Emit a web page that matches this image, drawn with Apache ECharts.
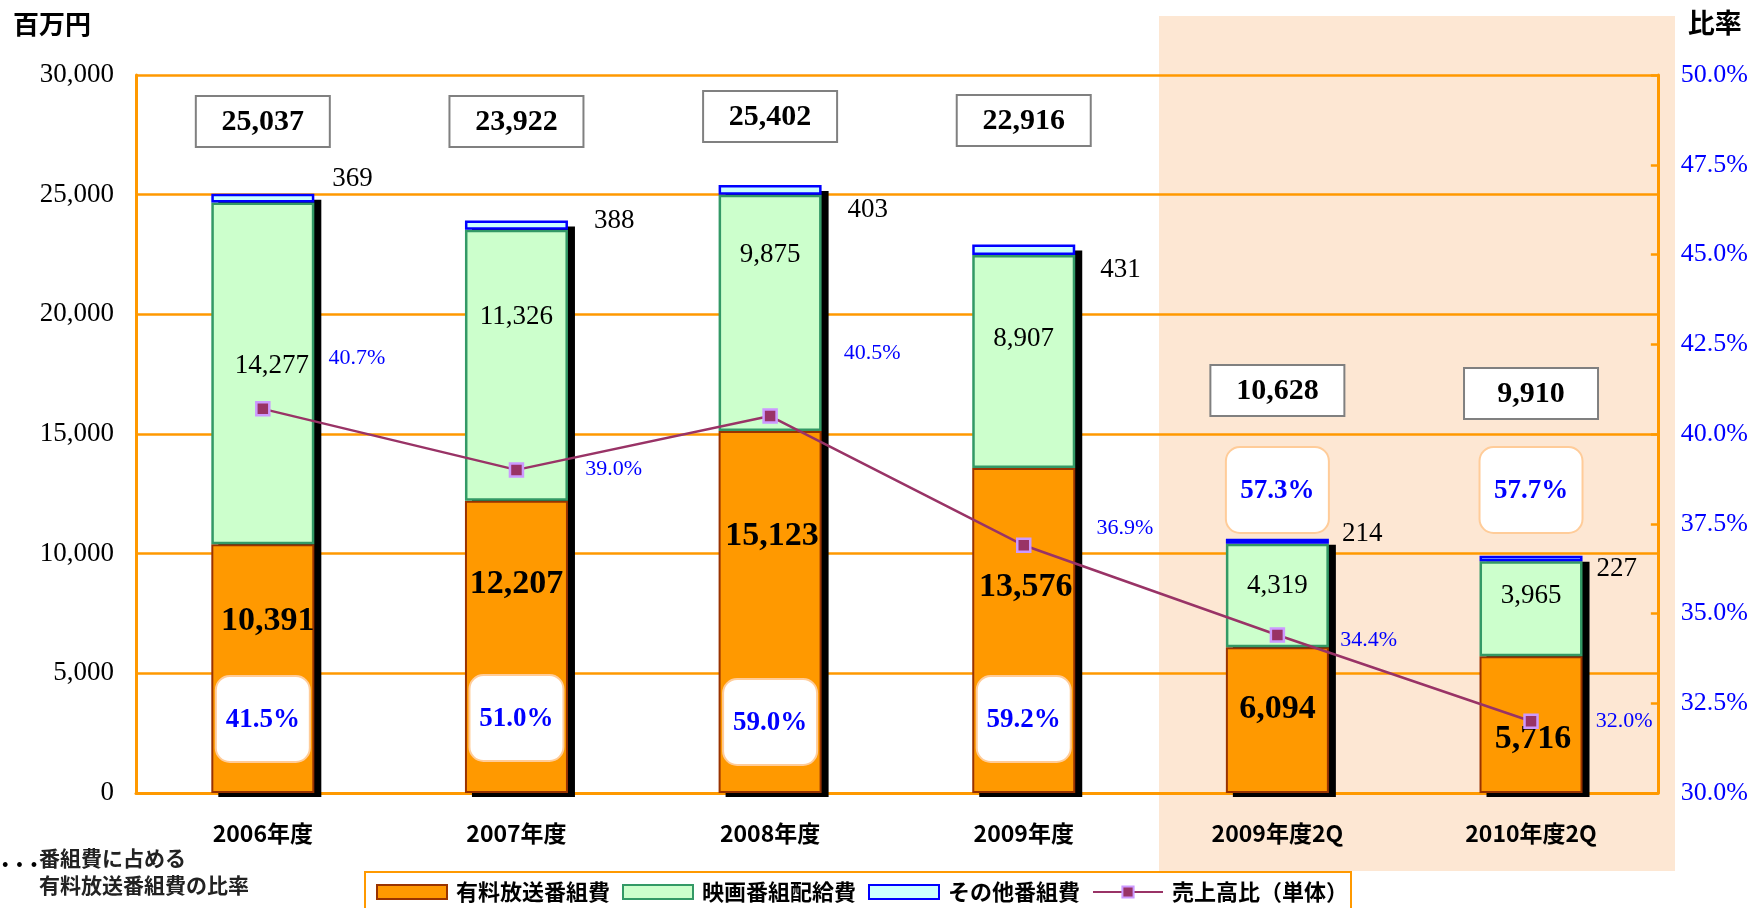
<!DOCTYPE html>
<html>
<head>
<meta charset="utf-8">
<script src="https://cdn.jsdelivr.net/npm/echarts@6/dist/echarts.min.js"></script>
<style>
  html, body { margin: 0; padding: 0; background: #fff; }
  #chart { width: 1751px; height: 908px; }
</style>
</head>
<body>
<div id="chart"></div>
<script>
// データ
const categories = ['2006年度', '2007年度', '2008年度', '2009年度', '2009年度2Q', '2010年度2Q']
const payTv = [10391, 12207, 15123, 13576, 6094, 5716]      // 有料放送番組費
const movie = [14277, 11326, 9875, 8907, 4319, 3965]        // 映画番組配給費
const other = [369, 388, 403, 431, 214, 227]                // その他番組費
const totals = [25037, 23922, 25402, 22916, 10628, 9910]     // 合計
const salesRatio = [40.7, 39.0, 40.5, 36.9, 34.4, 32.0]      // 売上高比(単体)
const payTvShare = [41.5, 51.0, 59.0, 59.2, 57.3, 57.7]      // 番組費に占める有料放送番組費の比率

// ラベル位置の微調整 (レイアウト用)
const payTvLabelShift = [[5, -47], [0, -63], [2, -76], [2, -43], [0, -11], [2, 15]]
const movieLabelShift = [[9, -8], [0, -48], [0, -58], [0, -23], [0, -10], [0, -13]]
const otherLabelShift = [[-3, -19], [5, -4], [5, 20], [4, 20], [-8, -7], [-7, 10]]
const ratioLabelShift = [[-1, -51], [2, -1], [7, -63], [6, -17], [-4, 5], [-2, 0]]
const totalBoxY = [121, 121, 116, 120, 390, 393]
const shareBoxY = [719, 718, 722, 719, 490, 490]

const serif = '"Liberation Serif", "Times New Roman", serif'
const gothic = '"Noto Sans CJK JP", "Noto Sans", sans-serif'
const orange = '#FF9900'
const barWidth = 103
const num = v => v.toLocaleString('en-US')

const shifted = (values, shifts) => values.map((v, i) => ({ value: v, label: { offset: shifts[i] } }))

const chart = echarts.init(document.getElementById('chart'))

const option = {
  animation: false,
  backgroundColor: '#fff',
  grid: { left: 136, right: 93, top: 75, bottom: 115 },
  graphic: [
    { type: 'rect', z: -10, shape: { x: 1159, y: 16, width: 516, height: 855 }, style: { fill: '#FDE7D3' } },
    { type: 'text', left: 1, top: 844, style: { text: '. . .', font: 'bold 26px ' + gothic, fill: '#000' } },
    { type: 'text', left: 39, top: 845, style: { text: '番組費に占める\n有料放送番組費の比率', font: 'bold 21px ' + gothic, lineHeight: 27, fill: '#222' } }
  ],
  legend: {
    left: 365, top: 872,
    padding: [9, 3, 9, 11],
    borderColor: orange, borderWidth: 2,
    itemWidth: 70, itemHeight: 14, itemGap: 12,
    textStyle: { fontFamily: gothic, fontWeight: 'bold', fontSize: 22, color: '#000', padding: [0, 0, 0, 4] },
    data: [
      { name: '有料放送番組費', icon: 'rect' },
      { name: '映画番組配給費', icon: 'rect' },
      { name: 'その他番組費', icon: 'rect' },
      { name: '売上高比（単体）' }
    ]
  },
  xAxis: {
    type: 'category',
    data: categories,
    axisLine: { lineStyle: { color: orange, width: 3 } },
    axisTick: { inside: true, length: 9, lineStyle: { color: orange, width: 2 } },
    axisLabel: { margin: 29, fontFamily: gothic, fontWeight: 'bold', fontSize: 23, color: '#000' }
  },
  yAxis: [
    {
      type: 'value', min: 0, max: 30000, interval: 5000,
      name: '百万円', nameLocation: 'end', nameGap: 38,
      nameTextStyle: { fontFamily: gothic, fontWeight: 'bold', fontSize: 26, color: '#000', align: 'right', padding: [0, 45, 0, 0] },
      axisLine: { show: true, lineStyle: { color: orange, width: 3 } },
      axisTick: { show: false },
      splitLine: { lineStyle: { color: orange, width: 2.5 } },
      axisLabel: { margin: 22, fontFamily: serif, fontSize: 27, color: '#000', padding: [0, 0, 16, 0], formatter: v => num(v) }
    },
    {
      type: 'value', min: 30, max: 50, interval: 2.5,
      name: '比率', nameLocation: 'end', nameGap: 39,
      nameTextStyle: { fontFamily: gothic, fontWeight: 'bold', fontSize: 27, color: '#000', align: 'left', padding: [0, 0, 0, 30] },
      axisLine: { show: true, lineStyle: { color: orange, width: 3 } },
      axisTick: { show: true, inside: true, length: 7, lineStyle: { color: orange, width: 2.5 } },
      splitLine: { show: false },
      axisLabel: { margin: 23, fontFamily: serif, fontSize: 26, color: '#0000FF', padding: [0, 0, 16, 0], formatter: v => v.toFixed(1) + '%' }
    }
  ],
  series: [
    {
      // 棒の影
      name: 'shadow', type: 'custom', z: 1, silent: true,
      data: totals.map((v, i) => [i, v]),
      renderItem: (params, api) => {
        const top = api.coord([api.value(0), api.value(1)])
        const base = api.coord([api.value(0), 0])
        return {
          type: 'rect',
          shape: { x: top[0] - barWidth / 2 + 7, y: top[1] + 6, width: barWidth, height: base[1] - top[1] - 2 },
          style: { fill: '#000' }
        }
      }
    },
    {
      name: '有料放送番組費', type: 'bar', stack: 'cost', barWidth: barWidth, z: 2,
      data: shifted(payTv, payTvLabelShift),
      itemStyle: { color: '#FF9900', borderColor: '#993300', borderWidth: 2 },
      label: { show: true, position: 'inside', fontFamily: serif, fontWeight: 'bold', fontSize: 34, color: '#000', formatter: p => num(p.value) }
    },
    {
      name: '映画番組配給費', type: 'bar', stack: 'cost', barWidth: barWidth, z: 2,
      data: shifted(movie, movieLabelShift),
      itemStyle: { color: '#CCFFCC', borderColor: '#339966', borderWidth: 2.5 },
      label: { show: true, position: 'inside', fontFamily: serif, fontSize: 27, color: '#000', formatter: p => num(p.value) }
    },
    {
      name: 'その他番組費', type: 'bar', stack: 'cost', barWidth: barWidth, z: 2,
      data: shifted(other, otherLabelShift),
      itemStyle: { color: '#CCFFFF', borderColor: '#0000FF', borderWidth: 2.5 },
      label: { show: true, position: 'right', distance: 21, fontFamily: serif, fontSize: 27, color: '#000', formatter: p => num(p.value) }
    },
    {
      name: '売上高比（単体）', type: 'line', yAxisIndex: 1, z: 5,
      data: shifted(salesRatio, ratioLabelShift),
      symbol: 'rect', symbolSize: 13,
      lineStyle: { color: '#993366', width: 2.5 },
      itemStyle: { color: '#993366', borderColor: '#CC99FF', borderWidth: 2.5 },
      label: { show: true, position: 'right', distance: 59, fontFamily: serif, fontSize: 22, color: '#0000FF', formatter: p => p.value.toFixed(1) + '%' }
    },
    {
      // 合計の枠
      name: 'total', type: 'custom', z: 6, silent: true,
      data: totals.map((v, i) => [i, v]),
      renderItem: (params, api) => {
        const i = params.dataIndex
        const cx = api.coord([api.value(0), 0])[0]
        const cy = totalBoxY[i]
        return {
          type: 'group',
          children: [
            { type: 'rect', shape: { x: cx - 67, y: cy - 25, width: 134, height: 51 }, style: { fill: '#fff', stroke: '#808080', lineWidth: 2 } },
            { type: 'text', style: { text: num(api.value(1)), x: cx, y: cy + 1, align: 'center', verticalAlign: 'middle', font: 'bold 30px ' + serif, fill: '#000' } }
          ]
        }
      }
    },
    {
      // 有料放送番組費の比率
      name: 'share', type: 'custom', z: 6, silent: true,
      data: payTvShare.map((v, i) => [i, v]),
      renderItem: (params, api) => {
        const i = params.dataIndex
        const cx = api.coord([api.value(0), 0])[0]
        const cy = shareBoxY[i]
        const w = i < 4 ? 94 : 103
        return {
          type: 'group',
          children: [
            { type: 'rect', shape: { x: cx - w / 2, y: cy - 43, width: w, height: 86, r: 14 }, style: { fill: '#fff', stroke: '#FFCC99', lineWidth: 2 } },
            { type: 'text', style: { text: api.value(1).toFixed(1) + '%', x: cx, y: cy + 1, align: 'center', verticalAlign: 'middle', font: 'bold 27px ' + serif, fill: '#0000FF' } }
          ]
        }
      }
    }
  ]
}

chart.setOption(option)
</script>
</body>
</html>
